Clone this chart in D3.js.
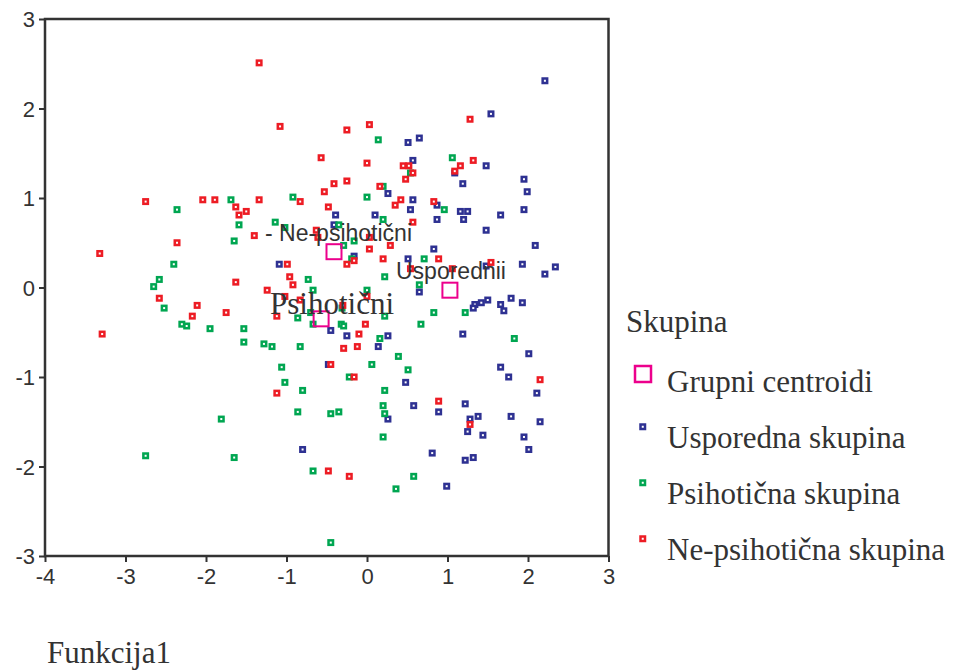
<!DOCTYPE html>
<html>
<head>
<meta charset="utf-8">
<script src="https://cdn.jsdelivr.net/npm/d3@7"></script>
<style>
  body { margin: 0; background: #fff; }
  svg { display: block; }
</style>
</head>
<body>
<div id="chart"></div>
<script>
// discriminant scores (Funkcija1, Funkcija2) per group
var usporedna = [
  [-1.09, 0.26], [-0.48, -0.86], [-0.39, 0.81], [-0.41, 0.70], [-0.16, 0.35],
  [0.65, 1.67], [0.51, 1.62], [0.57, 1.42], [1.48, 1.36], [1.19, 1.16],
  [0.26, 1.05], [0.57, 0.98], [0.54, 0.87], [0.87, 0.92], [0.87, 0.76],
  [0.10, 0.81], [1.16, 0.85], [1.25, 0.85], [1.20, 0.76], [1.48, 0.64],
  [1.09, 1.28], [2.21, 2.31], [1.54, 1.94], [1.95, 1.21], [1.99, 1.07],
  [1.95, 0.87], [1.66, 0.81], [0.83, 0.43], [0.51, 0.32], [2.09, 0.47],
  [1.93, 0.26], [2.34, 0.23], [2.21, 0.15], [0.65, -0.05], [1.48, 0.24],
  [1.79, -0.12], [1.93, -0.17], [1.66, -0.19], [1.70, -0.26], [1.50, -0.14],
  [1.42, -0.17], [1.34, -0.19], [1.32, -0.23], [-0.45, -0.48], [-0.25, -0.54],
  [0.26, -0.54], [0.14, -0.66], [1.19, -0.52], [2.01, -0.74], [1.66, -0.89],
  [1.76, -1.00], [2.11, -1.18], [0.48, -1.06], [0.58, -1.32], [0.89, -1.39],
  [1.22, -1.30], [0.26, -1.47], [1.28, -1.47], [1.38, -1.44], [1.79, -1.44],
  [2.15, -1.50], [1.25, -1.61], [1.44, -1.65], [1.95, -1.67], [2.01, -1.81],
  [0.81, -1.85], [1.22, -1.93], [1.32, -1.90], [0.99, -2.22], [-0.80, -1.81]
];
var psihoticna = [
  [-1.69, 0.98], [-0.92, 1.01], [-2.36, 0.87], [-1.59, 0.70], [-1.14, 0.73],
  [-1.02, 0.67], [-1.65, 0.52], [-2.40, 0.26], [-2.58, 0.09], [-2.65, 0.01],
  [-2.52, -0.23], [-2.30, -0.41], [-2.24, -0.43], [-1.95, -0.46], [-1.53, -0.46],
  [-1.53, -0.61], [-1.28, -0.63], [-1.18, -0.66], [-0.83, -0.66], [-1.06, -0.89],
  [-0.73, 0.09], [-0.67, -0.03], [-0.86, -0.34], [-0.70, -0.28], [-0.67, -0.41],
  [-0.29, 0.47], [-0.16, 0.52], [-0.19, 0.32], [0.14, 1.65], [1.06, 1.45],
  [0.00, 1.01], [0.96, 0.87], [0.20, 0.76], [0.54, 1.28], [-0.35, 0.70],
  [0.71, 0.32], [0.22, 0.12], [0.65, 0.03], [0.00, -0.03], [-0.31, -0.23],
  [0.83, -0.28], [1.22, -0.28], [0.22, -0.32], [0.67, -0.41], [-0.32, -0.41],
  [-0.29, -0.43], [0.16, -0.57], [0.39, -0.77], [0.06, -0.86], [0.51, -0.92],
  [1.83, -0.57], [-0.22, -1.00], [0.22, -1.15], [0.20, -1.32], [0.22, -1.41],
  [-0.45, -1.41], [-0.35, -1.39], [0.20, -1.67], [0.58, -2.11], [0.36, -2.25],
  [-0.45, -2.85], [-1.02, -1.06], [-0.80, -1.15], [-0.86, -1.39], [-1.81, -1.47],
  [-2.75, -1.88], [-1.65, -1.90], [-0.67, -2.05], [0.20, 1.13]
];
var nePsihoticna = [
  [-1.34, 2.51], [-1.08, 1.80], [-0.57, 1.45], [-0.53, 1.07], [-2.75, 0.96],
  [-2.04, 0.98], [-1.89, 0.98], [-1.34, 0.98], [-0.83, 0.96], [-1.63, 0.90],
  [-1.50, 0.85], [-0.48, 0.90], [-1.59, 0.81], [-1.40, 0.58], [-2.36, 0.50],
  [-3.32, 0.38], [-0.99, 0.26], [-1.63, 0.06], [-0.96, 0.12], [-0.92, 0.03],
  [-1.24, -0.03], [-0.83, -0.14], [-2.58, -0.12], [-2.11, -0.20], [-2.17, -0.32],
  [-1.75, -0.28], [-1.12, -0.32], [-3.29, -0.52], [-0.63, 0.64], [-0.61, 0.56],
  [-0.25, 1.19], [-0.41, 1.16], [-0.25, 0.26], [-0.16, 0.30], [1.28, 1.88],
  [0.03, 1.82], [-0.25, 1.76], [0.00, 1.39], [0.45, 1.36], [0.52, 1.36],
  [0.57, 1.28], [0.48, 1.21], [1.16, 1.36], [1.32, 1.42], [1.09, 1.30],
  [0.16, 1.13], [0.42, 0.98], [0.35, 0.92], [0.83, 0.96], [0.57, 0.73],
  [0.03, 0.56], [0.03, 0.43], [0.29, 0.47], [0.20, 0.32], [0.89, 0.32],
  [0.54, 0.21], [1.06, 0.21], [1.54, 0.28], [0.00, -0.10], [-0.30, -0.20],
  [-0.02, -0.41], [-0.10, -0.52], [-0.29, -0.68], [-0.12, -0.66], [-0.45, -0.86],
  [-0.16, -1.00], [2.15, -1.03], [-1.02, -0.10], [-1.12, -1.18], [-0.48, -2.05],
  [-0.22, -2.11], [0.89, -1.27], [1.28, -1.53]
];
// group centroids and their labels
var centroids = [[-0.41, 0.40], [1.03, -0.03], [-0.57, -0.35]];
var xTicks = [-4, -3, -2, -1, 0, 1, 2, 3];
var yTicks = [-3, -2, -1, 0, 1, 2, 3];
var legendLabels = ["Grupni centroidi", "Usporedna skupina", "Psihotična skupina", "Ne-psihotična skupina"];

var width = 959, height = 671;
var colors = { blue: "#2e3192", green: "#00a651", red: "#ed1c24", pink: "#ec008c" };
var textColor = "#333";

var svg = d3.select("#chart").append("svg")
  .attr("width", width)
  .attr("height", height);

var x = d3.scaleLinear().domain([-4, 3]).range([45, 608.5]);
var y = d3.scaleLinear().domain([-3, 3]).range([556, 19]);

// plain hyphen for negatives, like the original
var tickFmt = function(d) { return String(d); };

// axes (ticks only, the frame is drawn separately)
var xAxis = svg.append("g")
  .attr("transform", "translate(0," + y(-3) + ")")
  .call(d3.axisBottom(x).tickValues(xTicks).tickSize(6).tickSizeOuter(0).tickFormat(tickFmt));
var yAxis = svg.append("g")
  .attr("transform", "translate(" + x(-4) + ",0)")
  .call(d3.axisLeft(y).tickValues(yTicks).tickSize(6).tickSizeOuter(0).tickFormat(tickFmt));

[xAxis, yAxis].forEach(function(g) {
  g.select(".domain").remove();
  g.selectAll("line").attr("stroke", textColor).attr("stroke-width", 2);
  g.selectAll("text")
    .attr("fill", textColor)
    .style("font-family", "'Liberation Sans', Arial, sans-serif")
    .style("font-size", "22px");
});
xAxis.selectAll("text").attr("y", 12);
yAxis.selectAll("text").attr("x", -10).attr("dy", "0.36em");

// frame
svg.append("rect")
  .attr("x", x(-4))
  .attr("y", y(3))
  .attr("width", x(3) - x(-4))
  .attr("height", y(-3) - y(3))
  .attr("fill", "none")
  .attr("stroke", textColor)
  .attr("stroke-width", 2.5);

// small hollow square markers
function drawPoints(data, color) {
  svg.append("g").selectAll("rect")
    .data(data)
    .enter()
    .append("rect")
    .attr("x", function(d) { return x(d[0]) - 2.25; })
    .attr("y", function(d) { return y(d[1]) - 2.25; })
    .attr("width", 4.5)
    .attr("height", 4.5)
    .attr("fill", "#fff")
    .attr("stroke", color)
    .attr("stroke-width", 2.5);
}
drawPoints(usporedna, colors.blue);
drawPoints(psihoticna, colors.green);
drawPoints(nePsihoticna, colors.red);

// centroids
svg.append("g").selectAll("rect")
  .data(centroids)
  .enter()
  .append("rect")
  .attr("x", function(d) { return x(d[0]) - 7.5; })
  .attr("y", function(d) { return y(d[1]) - 7.5; })
  .attr("width", 15)
  .attr("height", 15)
  .attr("fill", "none")
  .attr("stroke", colors.pink)
  .attr("stroke-width", 2);

// centroid labels
var sans = "'Liberation Sans', Arial, sans-serif";
var serif = "'Liberation Serif', 'Times New Roman', serif";
svg.append("text")
  .attr("x", 265).attr("y", 241)
  .attr("fill", textColor)
  .style("font-family", sans).style("font-size", "23px")
  .text("- Ne-psihotični");
svg.append("text")
  .attr("x", 396).attr("y", 279)
  .attr("fill", textColor)
  .style("font-family", sans).style("font-size", "23px")
  .text("Usporednii");
svg.append("text")
  .attr("x", 270).attr("y", 314)
  .attr("fill", textColor)
  .style("font-family", serif).style("font-size", "31px")
  .text("Psihotični");

// x axis title
svg.append("text")
  .attr("x", 47).attr("y", 663)
  .attr("fill", textColor)
  .style("font-family", serif).style("font-size", "31px")
  .text("Funkcija1");

// legend
var legend = svg.append("g").attr("transform", "translate(626,0)");
legend.append("text")
  .attr("x", 0).attr("y", 332)
  .attr("fill", textColor)
  .style("font-family", serif).style("font-size", "31px")
  .text("Skupina");

var legendColors = [colors.pink, colors.blue, colors.green, colors.red];
var items = legend.selectAll("g.item")
  .data(legendLabels)
  .enter()
  .append("g")
  .attr("class", "item")
  .attr("transform", function(d, i) { return "translate(0," + (392 + i * 56) + ")"; });

items.append("rect")
  .attr("x", function(d, i) { return i == 0 ? 9 : 14.5; })
  .attr("y", function(d, i) { return i == 0 ? -26 : -23.5; })
  .attr("width", function(d, i) { return i == 0 ? 16 : 4.5; })
  .attr("height", function(d, i) { return i == 0 ? 16 : 4.5; })
  .attr("fill", function(d, i) { return i == 0 ? "none" : "#fff"; })
  .attr("stroke", function(d, i) { return legendColors[i]; })
  .attr("stroke-width", 2.5);

items.append("text")
  .attr("x", 41)
  .attr("y", 0)
  .attr("fill", textColor)
  .style("font-family", serif).style("font-size", "31px")
  .text(function(d) { return d; });
</script>
</body>
</html>
